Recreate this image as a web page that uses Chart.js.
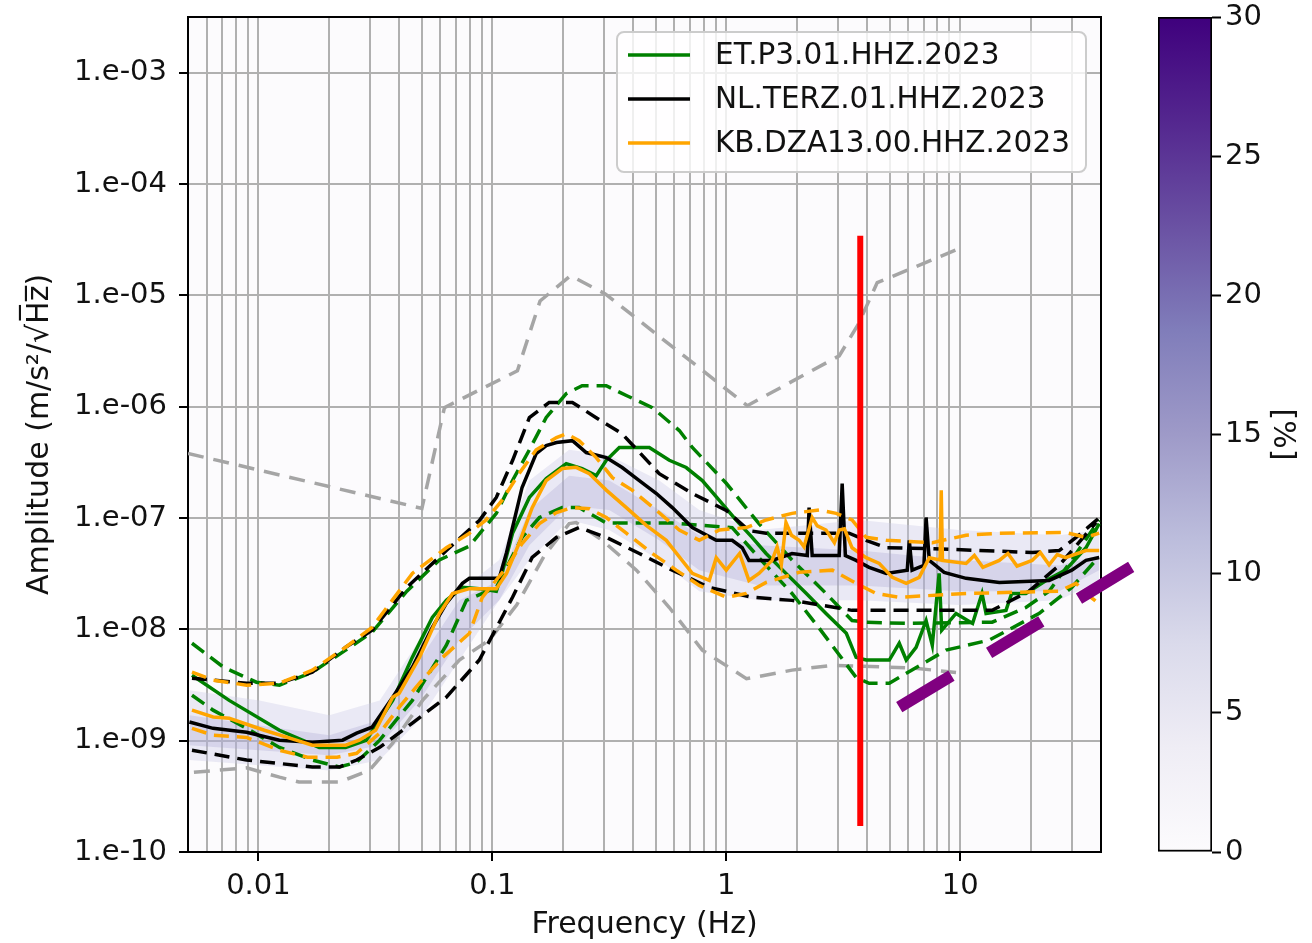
<!DOCTYPE html>
<html>
<head>
<meta charset="utf-8">
<script src="https://cdn.jsdelivr.net/npm/chart.js@4.4.0/dist/chart.umd.min.js"></script>
<style>
  html, body { margin: 0; padding: 0; background: #fff; }
  #wrap { position: relative; width: 1312px; height: 943px; }
  #psd { position: absolute; left: 0; top: 0; }
  #cbar { position: absolute; left: 1140px; top: 0; }
</style>
</head>
<body>
<div id="wrap">
  <canvas id="psd" width="1312" height="943"></canvas>
  <canvas id="cbar" width="172" height="943"></canvas>
</div>
<script>
// station names, in legend order
const stations = ["ET.P3.01.HHZ.2023", "NL.TERZ.01.HHZ.2023", "KB.DZA13.00.HHZ.2023"];

// axis ticks
const xDecades = [0.01, 0.1, 1, 10];
const xTickLabels = ["0.01", "0.1", "1", "10"];
const yDecades = [1e-10, 1e-9, 1e-8, 1e-7, 1e-6, 1e-5, 1e-4, 1e-3];
const yTickLabels = ["1.e-10", "1.e-09", "1.e-08", "1.e-07", "1.e-06", "1.e-05", "1.e-04", "1.e-03"];
const cbarTicks = [0, 5, 10, 15, 20, 25, 30];
const cbarMax = 30;

// [frequency Hz, amplitude m/s^2/sqrt(Hz)]
const etMedian = [[0.0052,3.87e-9],[0.0075,2.3e-9],[0.0123,1.24e-9],[0.0182,8.7e-10],[0.0236,8.7e-10],[0.0289,1.01e-9],[0.0375,2.3e-9],[0.0455,5.6e-9],[0.0554,1.28e-8],[0.0636,1.82e-8],[0.0745,2.38e-8],[0.088,2.32e-8],[0.104,2.2e-8],[0.11,3.18e-8],[0.122,7.3e-8],[0.144,1.53e-7],[0.17,2.26e-7],[0.207,3.08e-7],[0.242,2.78e-7],[0.278,2.4e-7],[0.307,3.3e-7],[0.349,4.29e-7],[0.469,4.29e-7],[0.571,3.3e-7],[0.674,2.84e-7],[0.79,2.17e-7],[0.934,1.44e-7],[1.1,9.6e-8],[1.29,6.7e-8],[1.48,4.8e-8],[1.8,3.18e-8],[2.2,2.1e-8],[2.67,1.39e-8],[3.26,9.2e-9],[3.59,5.6e-9],[3.96,5.3e-9],[4.98,5.3e-9],[5.49,7.5e-9],[5.88,5.3e-9],[6.48,6.9e-9],[7.15,1.2e-8],[7.6,7.2e-9],[8.13,3.18e-8],[8.34,9.8e-9],[9.6,1.39e-8],[11.3,1.13e-8],[12.4,2.1e-8],[12.9,1.39e-8],[15.7,1.48e-8],[16.6,2.1e-8],[19.1,2.1e-8],[23.3,2.75e-8],[28.2,3.4e-8],[34.5,5.4e-8],[39.3,8.9e-8]];
const etUpper = [[0.0052,7.5e-9],[0.0071,4.56e-9],[0.0098,3.35e-9],[0.0123,3.15e-9],[0.017,4.12e-9],[0.0236,6.5e-9],[0.0306,9.4e-9],[0.0431,2.2e-8],[0.0594,4.2e-8],[0.0798,5.6e-8],[0.104,1.1e-7],[0.122,2.17e-7],[0.144,4.1e-7],[0.17,8.0e-7],[0.207,1.31e-6],[0.242,1.54e-6],[0.307,1.54e-6],[0.374,1.26e-6],[0.483,9.8e-7],[0.63,6.1e-7],[0.716,4.3e-7],[1.0,2.05e-7],[1.38,8.9e-8],[1.91,4.2e-8],[2.67,2.1e-8],[3.45,1.2e-8],[3.96,1.16e-8],[5.88,1.13e-8],[13.7,1.16e-8],[19.1,1.57e-8],[24.0,2.2e-8],[30.0,4.2e-8],[39.3,9.6e-8]];
const etLower = [[0.0052,2.56e-9],[0.0064,1.88e-9],[0.0089,1.29e-9],[0.0123,8.7e-10],[0.017,6.7e-10],[0.0222,5.8e-10],[0.0263,6.4e-10],[0.033,1.01e-9],[0.0455,2.3e-9],[0.0636,7.2e-9],[0.0775,1.82e-8],[0.104,2.38e-8],[0.134,6.7e-8],[0.159,1.01e-7],[0.199,1.24e-7],[0.235,1.24e-7],[0.307,9.0e-8],[0.588,9.0e-8],[1.06,8.2e-8],[1.38,4.4e-8],[1.91,2.1e-8],[2.5,1.02e-8],[3.59,3.7e-9],[4.08,3.28e-9],[4.98,3.28e-9],[8.7,6.5e-9],[13.3,8.0e-9],[21.8,1.39e-8],[30.0,2.38e-8],[38.1,4.2e-8]];

const nlMedian = [[0.00507,1.47e-9],[0.0064,1.29e-9],[0.0089,1.19e-9],[0.0123,1.01e-9],[0.017,9.7e-10],[0.0229,1.01e-9],[0.0263,1.17e-9],[0.0306,1.32e-9],[0.0375,2.46e-9],[0.0455,4.56e-9],[0.0554,1.04e-8],[0.0636,1.71e-8],[0.0745,2.59e-8],[0.0798,2.87e-8],[0.107,2.87e-8],[0.115,4.9e-8],[0.134,1.88e-7],[0.154,3.79e-7],[0.17,4.47e-7],[0.188,4.76e-7],[0.22,4.95e-7],[0.252,3.87e-7],[0.307,3.49e-7],[0.359,2.84e-7],[0.425,2.17e-7],[0.503,1.66e-7],[0.588,1.24e-7],[0.716,8.2e-8],[0.906,6.3e-8],[1.06,6.3e-8],[1.17,5.4e-8],[1.25,4.16e-8],[1.57,4.16e-8],[1.91,4.8e-8],[2.22,4.6e-8],[2.26,1.24e-7],[2.33,4.6e-8],[3.04,4.6e-8],[3.13,2.04e-7],[3.23,4.6e-8],[3.59,4.16e-8],[4.08,3.6e-8],[4.83,3.18e-8],[5.94,3.4e-8],[6.06,6.3e-8],[6.23,3.4e-8],[7.0,3.75e-8],[7.15,1.01e-7],[7.38,4.16e-8],[8.54,3.25e-8],[10.6,2.87e-8],[14.7,2.64e-8],[24.0,2.75e-8],[30.0,3.4e-8],[34.5,4.16e-8],[39.3,4.42e-8]];
const nlUpper = [[0.0052,3.64e-9],[0.0089,3.28e-9],[0.0123,3.28e-9],[0.017,4.12e-9],[0.0236,6.9e-9],[0.0306,9.8e-9],[0.0431,2.38e-8],[0.0636,5.1e-8],[0.088,9.5e-8],[0.104,1.53e-7],[0.122,3.28e-7],[0.144,7.96e-7],[0.175,1.09e-6],[0.22,1.09e-6],[0.278,7.96e-7],[0.359,5.7e-7],[0.517,2.5e-7],[0.716,1.66e-7],[1.0,1.17e-7],[1.25,7.7e-8],[1.48,7.3e-8],[3.35,7.3e-8],[3.96,6.3e-8],[4.83,5.4e-8],[7.6,5.3e-8],[20.3,4.9e-8],[26.5,5.1e-8],[31.3,6.7e-8],[39.3,1.0e-7]];
const nlLower = [[0.0052,8.2e-10],[0.0089,6.7e-10],[0.017,5.8e-10],[0.0222,5.8e-10],[0.0263,6.7e-10],[0.033,8.7e-10],[0.0455,1.44e-9],[0.0636,2.46e-9],[0.088,5.3e-9],[0.122,1.94e-8],[0.148,4.42e-8],[0.188,6.7e-8],[0.235,8.2e-8],[0.307,6.7e-8],[0.425,4.8e-8],[0.588,3.4e-8],[0.846,2.38e-8],[1.29,1.94e-8],[1.91,1.82e-8],[3.45,1.48e-8],[13.7,1.48e-8],[19.7,2.2e-8],[26.5,3.75e-8],[38.1,9.1e-8]];

const kbMedian = [[0.0052,1.88e-9],[0.0064,1.63e-9],[0.0075,1.59e-9],[0.0106,1.24e-9],[0.0145,1.01e-9],[0.017,9.1e-10],[0.0236,9.1e-10],[0.027,1.01e-9],[0.0317,1.24e-9],[0.0375,2.46e-9],[0.04,2.67e-9],[0.0488,5.6e-9],[0.0594,1.39e-8],[0.0676,2.1e-8],[0.0798,2.32e-8],[0.104,2.32e-8],[0.115,3.18e-8],[0.13,5.9e-8],[0.148,1.24e-7],[0.17,2.17e-7],[0.199,2.78e-7],[0.228,2.85e-7],[0.26,2.5e-7],[0.307,1.78e-7],[0.374,1.24e-7],[0.455,8.6e-8],[0.554,6.3e-8],[0.716,3.18e-8],[0.846,2.75e-8],[0.906,4.4e-8],[1.0,3.4e-8],[1.14,4.8e-8],[1.25,2.75e-8],[1.38,3.18e-8],[1.57,4.16e-8],[1.65,5.5e-8],[1.72,3.8e-8],[1.8,9.1e-8],[1.9,7.0e-8],[2.05,6.3e-8],[2.15,5.5e-8],[2.33,1.01e-7],[2.45,8.5e-8],[2.67,7.8e-8],[2.9,6.0e-8],[3.04,7.8e-8],[3.2,8.0e-8],[3.45,5.4e-8],[3.96,4.4e-8],[4.51,3.9e-8],[5.13,2.93e-8],[5.88,2.59e-8],[6.68,2.93e-8],[7.38,4.4e-8],[8.2,4.2e-8],[8.3,1.77e-7],[8.4,4.16e-8],[10.6,3.9e-8],[11.5,4.6e-8],[12.5,3.6e-8],[14.7,4.16e-8],[16.0,4.8e-8],[17.5,3.7e-8],[20.3,4.16e-8],[22.0,4.9e-8],[24.0,3.8e-8],[26.0,4.7e-8],[28.2,4.4e-8],[34.5,5.1e-8],[39.3,5.1e-8]];
const kbUpper = [[0.0052,4.12e-9],[0.0064,3.5e-9],[0.0089,3.15e-9],[0.0123,3.28e-9],[0.017,4.29e-9],[0.0236,6.9e-9],[0.0306,1.04e-8],[0.0455,3.18e-8],[0.0636,5.4e-8],[0.0798,7.3e-8],[0.094,9.6e-8],[0.11,1.44e-7],[0.13,2.5e-7],[0.154,4.1e-7],[0.188,5.27e-7],[0.207,5.7e-7],[0.235,4.95e-7],[0.278,3.49e-7],[0.326,2.3e-7],[0.396,1.78e-7],[0.503,1.17e-7],[0.63,7.8e-8],[0.767,6.3e-8],[0.934,7.8e-8],[1.22,8.2e-8],[1.48,9.6e-8],[1.91,1.1e-7],[2.5,1.18e-7],[2.95,1.1e-7],[3.45,9.6e-8],[3.96,6.7e-8],[4.83,6.3e-8],[7.6,6.0e-8],[10.6,7.0e-8],[14.7,7.3e-8],[28.2,7.4e-8],[34.5,6.7e-8],[39.3,7.3e-8]];
const kbLower = [[0.0052,1.29e-9],[0.0064,1.12e-9],[0.0089,1.07e-9],[0.0123,8.2e-10],[0.0162,7.1e-10],[0.0217,7.1e-10],[0.0263,7.7e-10],[0.033,1.17e-9],[0.04,2.0e-9],[0.0488,3.28e-9],[0.0613,5.6e-9],[0.0798,9.2e-9],[0.0906,1.94e-8],[0.115,3.6e-8],[0.134,5.9e-8],[0.159,8.9e-8],[0.188,1.12e-7],[0.22,1.24e-7],[0.26,1.21e-7],[0.307,1.01e-7],[0.374,7.3e-8],[0.483,4.8e-8],[0.611,3.4e-8],[0.767,2.48e-8],[1.0,1.94e-8],[1.22,2.1e-8],[1.48,2.64e-8],[2.05,3.25e-8],[2.84,3.4e-8],[3.59,2.59e-8],[4.37,2.1e-8],[5.49,1.94e-8],[10.6,2.1e-8],[26.5,2.2e-8],[31.3,2.59e-8],[34.5,2.1e-8],[38.1,1.78e-8]];

// reference noise models (grey dashed)
const modelHigh = [[0.005,3.8e-7],[0.05,1.22e-7],[0.0624,9.8e-7],[0.128,2.1e-6],[0.16,8.9e-6],[0.216,1.5e-5],[0.304,1.03e-5],[1.23,1.02e-6],[3.04,2.86e-6],[3.67,5.5e-6],[4.42,1.3e-5],[9.8,2.6e-5]];
const modelLow = [[0.0053,5.2e-10],[0.0089,5.7e-10],[0.0123,4.7e-10],[0.0149,4.25e-10],[0.0222,4.25e-10],[0.0298,5.4e-10],[0.0375,9.5e-10],[0.0503,2.3e-9],[0.0723,5.3e-9],[0.097,8.0e-9],[0.127,1.65e-8],[0.167,4.6e-8],[0.213,8.9e-8],[0.228,9.1e-8],[0.295,6.3e-8],[0.413,3.4e-8],[0.571,1.57e-8],[0.79,6.5e-9],[1.22,3.6e-9],[1.91,4.3e-9],[2.84,4.75e-9],[6.23,4.5e-9],[9.6,4.1e-9]];

// probability density envelope (outer = faint, inner = denser)
const bandFreq = [0.00507, 0.0101, 0.0201, 0.033, 0.0488, 0.0723, 0.107, 0.144, 0.213, 0.316, 0.517, 0.767, 1.38, 3.7, 9.9, 26.5, 39.3];
const bandOuterHi = [2.84e-9, 2.3e-9, 1.69e-9, 2.3e-9, 8.0e-9, 2.2e-8, 4.2e-8, 2.17e-7, 4.1e-7, 3.64e-7, 2.17e-7, 1.18e-7, 7.8e-8, 9.6e-8, 7.8e-8, 7.0e-8, 7.8e-8];
const bandOuterLo = [6.7e-10, 6.0e-10, 5.4e-10, 6.7e-10, 1.53e-9, 5.3e-9, 1.82e-8, 4.2e-8, 9.6e-8, 7.8e-8, 4.2e-8, 2.2e-8, 1.82e-8, 1.82e-8, 1.65e-8, 1.82e-8, 2.75e-8];
const bandInnerHi = [1.69e-9, 1.37e-9, 1.12e-9, 1.53e-9, 5.3e-9, 1.82e-8, 2.75e-8, 1.18e-7, 2.4e-7, 2.17e-7, 1.18e-7, 7.0e-8, 5.7e-8, 5.1e-8, 4.2e-8, 3.75e-8, 4.6e-8];
const bandInnerLo = [9.1e-10, 8.2e-10, 7.4e-10, 9.1e-10, 2.3e-9, 8.0e-9, 1.82e-8, 5.7e-8, 1.29e-7, 1.18e-7, 6.3e-8, 3.4e-8, 2.48e-8, 2.48e-8, 2.2e-8, 2.2e-8, 3.4e-8];

// annotations
const markerFreq = 3.74;
const markerSpan = [1.71e-10, 3.42e-5];
const slopeMark = [[5.49, 2.0e-9], [54.3, 3.67e-8]];

// matplotlib "Purples", low to high
const purples = ["#fcfbfd", "#efedf5", "#dadaeb", "#bcbddc", "#9e9ac8", "#807dba", "#6a51a3", "#54278f", "#3f007d"];

const FONT = "'DejaVu Sans', sans-serif";
const GREEN = "#008000", ORANGE = "#ffa500", BLACK = "#000000", GREY = "#a5a5a5";

Chart.defaults.font.family = FONT;
Chart.defaults.color = "#111";

const toXY = pts => pts.map(p => ({ x: p[0], y: p[1] }));
const zipBand = arr => bandFreq.map((f, i) => ({ x: f, y: arr[i] }));

function curve(label, pts, color, dashed, legendRow) {
  return {
    label: label,
    data: toXY(pts),
    borderColor: color,
    borderWidth: 3.5,
    borderDash: dashed ? [15, 8] : [],
    legendRow: legendRow
  };
}

// vertical axes: no extra room above/below for the end labels
const noEndPadding = axis => { axis.paddingTop = 0; axis.paddingBottom = 0; };

// x ticks: every 1..9 x 10^n inside the range
const xTickValues = [];
for (let e = -3; e <= 1; e++) {
  for (let k = 1; k <= 9; k++) {
    const v = parseFloat((k * Math.pow(10, e)).toPrecision(3));
    if (v >= 0.005 && v <= 40) xTickValues.push(v);
  }
}

// first dataset is drawn on top
const datasets = [
  { label: "slope", data: toXY(slopeMark), borderColor: "#800080", borderWidth: 12, borderDash: [61, 44], clip: false },
  { label: "marker", data: markerSpan.map(a => ({ x: markerFreq, y: a })), borderColor: "#ff0000", borderWidth: 6 },
  curve(stations[2], kbMedian, ORANGE, false, 2),
  curve(stations[2] + " p90", kbUpper, ORANGE, true),
  curve(stations[2] + " p10", kbLower, ORANGE, true),
  curve(stations[1], nlMedian, BLACK, false, 1),
  curve(stations[1] + " p90", nlUpper, BLACK, true),
  curve(stations[1] + " p10", nlLower, BLACK, true),
  curve(stations[0], etMedian, GREEN, false, 0),
  curve(stations[0] + " p90", etUpper, GREEN, true),
  curve(stations[0] + " p10", etLower, GREEN, true),
  { label: "NHNM", data: toXY(modelHigh), borderColor: GREY, borderWidth: 3.5, borderDash: [16, 10] },
  { label: "NLNM", data: toXY(modelLow), borderColor: GREY, borderWidth: 3.5, borderDash: [16, 10] },
  { label: "pdf inner", data: zipBand(bandInnerHi), borderWidth: 0, fill: "+1", backgroundColor: "rgba(160,158,205,0.28)" },
  { label: "pdf inner lo", data: zipBand(bandInnerLo), borderWidth: 0 },
  { label: "pdf outer", data: zipBand(bandOuterHi), borderWidth: 0, fill: "+1", backgroundColor: "rgba(200,200,228,0.35)" },
  { label: "pdf outer lo", data: zipBand(bandOuterLo), borderWidth: 0 }
];

// plot background and the four spines
const plotFrame = {
  id: "plotFrame",
  beforeDraw(chart) {
    const { ctx, chartArea: a } = chart;
    ctx.save();
    ctx.fillStyle = "#fcfbfd";
    ctx.fillRect(a.left, a.top, a.right - a.left, a.bottom - a.top);
    ctx.restore();
  },
  beforeDatasetsDraw(chart) {
    const { ctx, chartArea: a } = chart;
    ctx.save();
    ctx.strokeStyle = "#000";
    ctx.lineWidth = 2;
    ctx.strokeRect(a.left, a.top, a.right - a.left, a.bottom - a.top);
    ctx.restore();
  }
};

// framed legend in the upper right corner
const legendBox = {
  id: "legendBox",
  afterDatasetsDraw(chart) {
    const { ctx, chartArea: a } = chart;
    const rows = chart.data.datasets.filter(d => d.legendRow !== undefined)
      .sort((p, q) => p.legendRow - q.legendRow);
    const w = 469, h = 140;
    const x0 = a.right - 15 - w, y0 = a.top + 15;
    ctx.save();
    ctx.fillStyle = "rgba(255,255,255,0.8)";
    ctx.strokeStyle = "#cccccc";
    ctx.lineWidth = 2;
    ctx.beginPath();
    ctx.roundRect(x0, y0, w, h, 7);
    ctx.fill();
    ctx.stroke();
    ctx.font = "29.5px " + FONT;
    ctx.textBaseline = "middle";
    rows.forEach((d, i) => {
      const y = y0 + 23 + i * 44;
      ctx.strokeStyle = d.borderColor;
      ctx.lineWidth = 3.5;
      ctx.beginPath();
      ctx.moveTo(x0 + 11, y);
      ctx.lineTo(x0 + 73, y);
      ctx.stroke();
      ctx.fillStyle = "#111";
      ctx.fillText(d.label, x0 + 98, y + 1);
    });
    ctx.restore();
  }
};

new Chart(document.getElementById("psd"), {
  type: "line",
  data: { datasets: datasets },
  options: {
    responsive: false,
    animation: false,
    devicePixelRatio: 1,
    layout: { padding: { left: 0, top: 17, right: 211, bottom: 0 } },
    elements: { point: { radius: 0 }, line: { tension: 0 } },
    plugins: { legend: { display: false }, tooltip: { enabled: false } },
    scales: {
      x: {
        type: "logarithmic",
        min: 0.005,
        max: 40,
        afterBuildTicks: axis => { axis.ticks = xTickValues.map(v => ({ value: v })); },
        afterFit: axis => { axis.height = 91; },
        ticks: {
          autoSkip: false,
          maxRotation: 0,
          padding: 8,
          font: { size: 29 },
          color: "#111",
          callback: v => {
            const i = xDecades.indexOf(v);
            return i >= 0 ? xTickLabels[i] : "";
          }
        },
        grid: {
          color: "#b0b0b0",
          lineWidth: 2,
          tickLength: 9,
          tickWidth: 2,
          tickColor: c => xDecades.indexOf(c.tick.value) >= 0 ? "#000" : "rgba(0,0,0,0)"
        },
        border: { display: false },
        title: { display: true, text: "Frequency (Hz)", font: { size: 30 }, color: "#111", padding: { top: 0, bottom: 0 } }
      },
      y: {
        type: "logarithmic",
        min: 1e-10,
        max: 3.16e-3,
        afterBuildTicks: axis => { axis.ticks = yDecades.map(v => ({ value: v })); },
        afterFit: axis => { axis.width = 188; noEndPadding(axis); },
        ticks: {
          padding: 12,
          font: { size: 29 },
          color: "#111",
          callback: (v, i) => yTickLabels[i]
        },
        grid: { color: "#b0b0b0", lineWidth: 2, tickLength: 9, tickWidth: 2, tickColor: "#000" },
        border: { display: false },
        title: { display: true, text: "Amplitude (m/s²/√H̅z̅)", font: { size: 30 }, color: "#111", padding: { top: 22, bottom: 0 } }
      }
    }
  },
  plugins: [plotFrame, legendBox]
});

// colour bar for the density, 0-30 %
new Chart(document.getElementById("cbar"), {
  type: "bar",
  data: {
    labels: [""],
    datasets: [{
      data: [cbarMax],
      backgroundColor: c => {
        const area = c.chart.chartArea;
        if (!area) return purples[0];
        const g = c.chart.ctx.createLinearGradient(0, area.bottom, 0, area.top);
        purples.forEach((col, i) => g.addColorStop(i / (purples.length - 1), col));
        return g;
      },
      borderColor: "#000",
      borderWidth: 2,
      borderSkipped: false,
      barPercentage: 1,
      categoryPercentage: 1
    }]
  },
  options: {
    responsive: false,
    animation: false,
    devicePixelRatio: 1,
    layout: { padding: { left: 18, top: 17, right: 0, bottom: 91 } },
    plugins: { legend: { display: false }, tooltip: { enabled: false } },
    scales: {
      x: { display: false },
      y: {
        position: "right",
        min: 0,
        max: cbarMax,
        afterBuildTicks: axis => { axis.ticks = cbarTicks.map(v => ({ value: v })); },
        afterFit: axis => { axis.width = 100; noEndPadding(axis); },
        ticks: { padding: 4, font: { size: 29 }, color: "#111" },
        grid: { drawOnChartArea: false, tickLength: 9, tickWidth: 2, tickColor: "#000" },
        border: { display: false },
        title: { display: true, text: "[%]", font: { size: 30 }, color: "#111", padding: { top: 12, bottom: 0 } }
      }
    }
  }
});
</script>
</body>
</html>
